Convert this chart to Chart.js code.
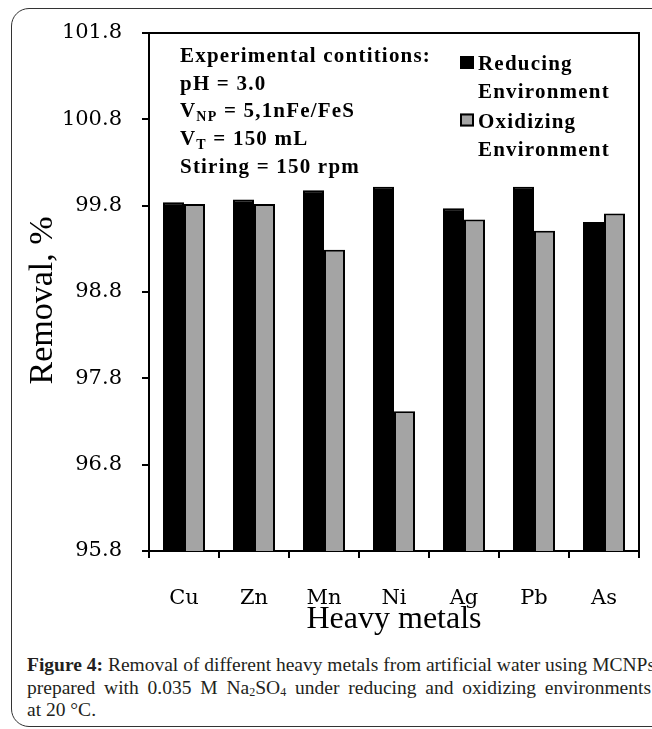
<!DOCTYPE html>
<html>
<head>
<meta charset="utf-8">
<script src="https://cdn.jsdelivr.net/npm/chart.js@4.4.1/dist/chart.umd.min.js"></script>
<style>
  html, body { margin: 0; padding: 0; background: #fff; overflow: hidden; }
  body { width: 652px; height: 729px; position: relative; }
  #frame { position: absolute; left: 11px; top: 8px; width: 700px; height: 717px;
           border: 1.5px solid #333; border-radius: 18px; }
  #wrap { position: absolute; left: 0; top: 0; width: 652px; height: 650px; }
  #cap { position: absolute; left: 27px; top: 654px; width: 624px;
         font-family: "Liberation Serif", serif; font-size: 19.5px; line-height: 22.5px; color: #231f20; }
  #cap div { white-space: nowrap; }
  #cap .j { text-align: justify; text-align-last: justify; }
  #cap sub { font-size: 12px; vertical-align: -2px; line-height: 0; }
</style>
</head>
<body>
<div id="frame"></div>
<div id="wrap"><canvas id="chart"></canvas></div>
<div id="cap">
  <div class="j"><b>Figure 4:</b> Removal of different heavy metals from artificial water using MCNPs</div>
  <div class="j">prepared with 0.035 M Na<sub>2</sub>SO<sub>4</sub> under reducing and oxidizing environments</div>
  <div>at 20 °C.</div>
</div>
<script>
// data
const metals = ['Cu', 'Zn', 'Mn', 'Ni', 'Ag', 'Pb', 'As'];
const reducing = [99.84, 99.87, 99.98, 100.02, 99.77, 100.02, 99.61];
const oxidizing = [99.82, 99.82, 99.29, 97.42, 99.64, 99.51, 99.71];
const seriesNames = ['Reducing Environment', 'Oxidizing Environment'];
const yTicks = [95.8, 96.8, 97.8, 98.8, 99.8, 100.8, 101.8];

// experimental conditions box (parts with sub = subscript)
const conditions = [
    [{ t: 'Experimental contitions:' }],
    [{ t: 'pH = 3.0' }],
    [{ t: 'V' }, { t: 'NP', sub: true }, { t: ' = 5,1nFe/FeS' }],
    [{ t: 'V' }, { t: 'T', sub: true }, { t: ' = 150 mL' }],
    [{ t: 'Stiring = 150 rpm' }]
];

const BLACK = '#000000';
const GREY = '#a4a4a4';

const notesPlugin = {
    id: 'notes',
    beforeDatasetsDraw(chart) {
        const ctx = chart.ctx;
        ctx.save();
        ctx.shadowColor = 'rgba(0,0,0,0.25)';
        ctx.shadowBlur = 3;
        ctx.shadowOffsetX = 2;
        ctx.shadowOffsetY = 1;
    },
    afterDatasetsDraw(chart) {
        chart.ctx.restore();
    },
    afterDraw(chart) {
        const ctx = chart.ctx;
        const area = chart.chartArea;
        ctx.save();
        // top and right edge of the plot box
        ctx.strokeStyle = '#000';
        ctx.lineWidth = 2;
        ctx.beginPath();
        ctx.moveTo(area.left, area.top);
        ctx.lineTo(area.right, area.top);
        ctx.lineTo(area.right, area.bottom);
        ctx.stroke();

        // conditions text
        ctx.fillStyle = '#000';
        ctx.textBaseline = 'alphabetic';
        ctx.textAlign = 'left';
        ctx.letterSpacing = '1.2px';
        let y = 62;
        conditions.forEach(line => {
            let x = 180;
            line.forEach(p => {
                ctx.font = p.sub ? 'bold 14px "Liberation Serif"' : 'bold 21px "Liberation Serif"';
                ctx.fillText(p.t, x, p.sub ? y + 4 : y);
                x += ctx.measureText(p.t).width;
            });
            y += 27.7;
        });

        // legend
        ctx.font = 'bold 21px "Liberation Serif"';
        const colors = [BLACK, GREY];
        seriesNames.forEach((name, i) => {
            const top = 56 + i * 57.5;
            ctx.fillStyle = colors[i];
            ctx.fillRect(460, top, 14, 13);
            ctx.strokeStyle = '#000';
            ctx.lineWidth = 2;
            ctx.strokeRect(461, top + 1, 12, 11);
            ctx.fillStyle = '#000';
            const words = name.split(' ');
            ctx.fillText(words[0], 478, 70 + i * 57.5);
            ctx.fillText(words[1], 478, 98 + i * 57.5);
        });
        ctx.restore();
    }
};

const ctx = document.getElementById('chart').getContext('2d');
new Chart(ctx, {
    type: 'bar',
    data: {
        labels: metals,
        datasets: [
            {
                label: seriesNames[0],
                data: reducing,
                backgroundColor: BLACK,
                borderColor: '#000',
                borderWidth: 2,
                categoryPercentage: 0.6,
                barPercentage: 1.0
            },
            {
                label: seriesNames[1],
                data: oxidizing,
                backgroundColor: GREY,
                borderColor: '#000',
                borderWidth: 2,
                categoryPercentage: 0.6,
                barPercentage: 1.0
            }
        ]
    },
    options: {
        responsive: true,
        maintainAspectRatio: false,
        animation: false,
        layout: { padding: { left: 0, top: 33, right: 13, bottom: 11 } },
        plugins: {
            legend: { display: false },
            tooltip: { enabled: false }
        },
        scales: {
            x: {
                grid: { offset: true, drawOnChartArea: false, color: '#000', lineWidth: 2, tickLength: 7 },
                border: { color: '#000', width: 2 },
                ticks: { color: '#000', padding: 28, font: { family: 'DejaVu Serif', size: 21 } },
                title: {
                    display: true, text: 'Heavy metals', color: '#000', padding: 0,
                    font: { family: 'Liberation Serif', size: 32 }
                },
                afterFit(scale) { scale.height = 88; }
            },
            y: {
                min: yTicks[0],
                max: yTicks[yTicks.length - 1],
                afterBuildTicks(scale) { scale.ticks = yTicks.map(v => ({ value: v })); },
                grid: { drawOnChartArea: false, color: '#000', lineWidth: 2, tickLength: 7 },
                border: { color: '#000', width: 2 },
                ticks: {
                    color: '#000', padding: 20,
                    font: { family: 'DejaVu Serif', size: 21 },
                    callback: v => Number(v).toFixed(1)
                },
                title: {
                    display: true, text: 'Removal, %  ', color: '#000',
                    padding: { top: 23, bottom: 0 },
                    font: { family: 'Liberation Serif', size: 34 }
                },
                afterFit(scale) { scale.width = 149; }
            }
        }
    },
    plugins: [notesPlugin]
});
</script>
</body>
</html>
